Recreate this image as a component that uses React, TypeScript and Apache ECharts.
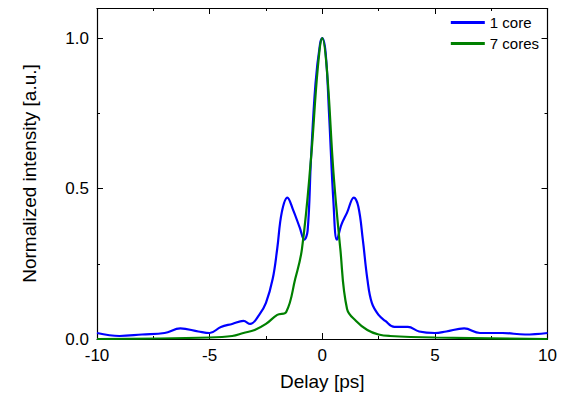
import { useEffect, useRef } from 'react';
import * as echarts from 'echarts';

const oneCoreX = [-10, -9, -8, -7, -6.3, -5.5, -5, -4.5, -4, -3.5, -3.2, -2.8, -2.5, -2.2, -2.0, -1.8, -1.55, -1.3, -1.0, -0.8, -0.65, -0.5, -0.3, -0.1, 0, 0.15, 0.3, 0.5, 0.65, 0.85, 1.1, 1.4, 1.6, 1.8, 2.0, 2.2, 2.5, 2.8, 3.2, 3.8, 4.3, 5, 5.5, 6.3, 7, 8, 9, 10];
const oneCoreY = [0.02, 0.01, 0.015, 0.02, 0.035, 0.025, 0.02, 0.04, 0.05, 0.06, 0.05, 0.08, 0.12, 0.2, 0.3, 0.42, 0.47, 0.43, 0.37, 0.33, 0.36, 0.6, 0.85, 0.98, 1.0, 0.95, 0.75, 0.45, 0.33, 0.38, 0.42, 0.47, 0.44, 0.33, 0.2, 0.12, 0.08, 0.06, 0.04, 0.04, 0.025, 0.02, 0.025, 0.035, 0.02, 0.02, 0.015, 0.02];
const sevenCoresX = [-10, -5, -4, -3.5, -3, -2.5, -2, -1.6, -1.2, -0.9, -0.5, -0.2, 0, 0.2, 0.5, 0.8, 1.1, 1.5, 2, 2.5, 3, 5, 10];
const sevenCoresY = [0.0, 0.005, 0.01, 0.02, 0.03, 0.05, 0.08, 0.09, 0.2, 0.3, 0.6, 0.9, 1.0, 0.9, 0.55, 0.3, 0.1, 0.06, 0.03, 0.015, 0.01, 0.005, 0.0];

const font = "'Liberation Sans', Arial, sans-serif";

export default function App() {
  const ref = useRef<HTMLDivElement>(null);

  useEffect(() => {
    if (!ref.current) return;
    const chart = echarts.init(ref.current, undefined, { renderer: 'svg' });
    const axisLine = { show: true, onZero: false, lineStyle: { color: '#000', width: 1.2 } };
    const tick = { show: true, inside: true, length: 6, lineStyle: { color: '#000' } };
    const minor = { show: true, splitNumber: 2, length: 3, lineStyle: { color: '#000' } };
    chart.setOption({
      animation: false,
      grid: { left: 89, right: 9, top: 0, bottom: 55 },
      legend: {
        right: 16, top: 2, orient: 'vertical', itemGap: 6, itemWidth: 34, itemHeight: 3,
        icon: 'rect',
        textStyle: { fontFamily: font, fontSize: 15, color: '#000' },
        data: ['1 core', '7 cores'],
      },
      xAxis: [
        {
          type: 'value', min: -10, max: 10, interval: 5,
          name: 'Delay [ps]', nameLocation: 'middle', nameGap: 33,
          nameTextStyle: { fontFamily: font, fontSize: 19, color: '#000' },
          axisLine, axisTick: tick, minorTick: minor, splitLine: { show: false },
          axisLabel: { fontFamily: font, fontSize: 17, color: '#000' },
        },
        {
          type: 'value', min: -10, max: 10, interval: 5, position: 'top',
          axisLine, axisTick: tick, minorTick: minor, splitLine: { show: false },
          axisLabel: { show: false },
        },
      ],
      yAxis: [
        {
          type: 'value', min: 0, max: 1.1, interval: 0.5,
          name: 'Normalized intensity [a.u.]', nameLocation: 'middle', nameGap: 58,
          nameTextStyle: { fontFamily: font, fontSize: 19, color: '#000' },
          axisLine, axisTick: tick, minorTick: minor, splitLine: { show: false },
          axisLabel: { fontFamily: font, fontSize: 17, color: '#000', showMaxLabel: false, formatter: (v: number) => v.toFixed(1) },
        },
        {
          type: 'value', min: 0, max: 1.1, interval: 0.5, position: 'right',
          axisLine, axisTick: tick, minorTick: minor, splitLine: { show: false },
          axisLabel: { show: false },
        },
      ],
      series: [
        {
          name: '1 core', type: 'line', smooth: 0.4, showSymbol: false,
          lineStyle: { color: '#0000ff', width: 2.2 }, itemStyle: { color: '#0000ff' },
          data: oneCoreX.map((x, i) => [x, oneCoreY[i]]),
        },
        {
          name: '7 cores', type: 'line', smooth: 0.4, showSymbol: false,
          lineStyle: { color: '#008000', width: 2.2 }, itemStyle: { color: '#008000' },
          data: sevenCoresX.map((x, i) => [x, sevenCoresY[i]]),
        },
      ],
    });
    return () => chart.dispose();
  }, []);

  return <div ref={ref} style={{ width: 552, height: 388 }} />;
}
